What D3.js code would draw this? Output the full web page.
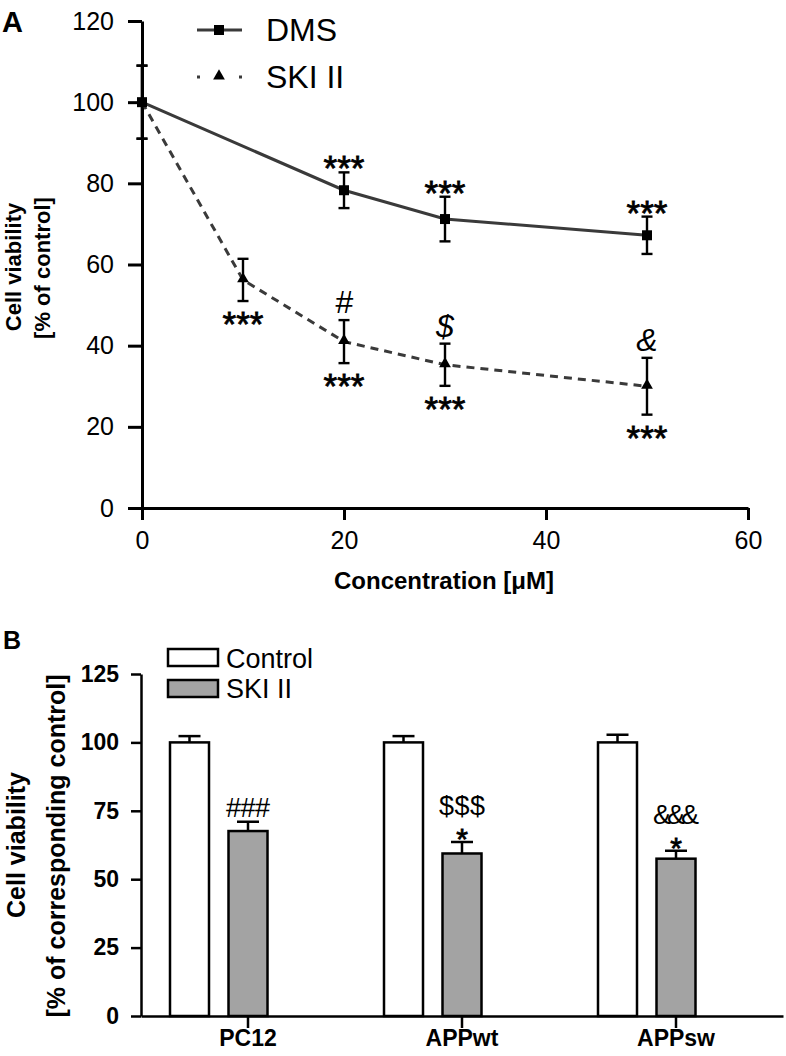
<!DOCTYPE html>
<html><head><meta charset="utf-8">
<script src="https://cdn.jsdelivr.net/npm/d3@7"></script>
<style>
html,body{margin:0;padding:0;background:#fff;}
svg{display:block;font-family:"Liberation Sans",Arial,sans-serif;}
</style></head>
<body>
<svg id="chart" width="786" height="1056"></svg>
<script>
// ---------- Panel A data ----------
const dmsDose = [0, 20, 30, 50];
const dmsMean = [100, 78.3, 71.2, 67.2];
const dmsErr  = [9, 4.4, 5.5, 4.6];
const dmsAbove = ["", "***", "***", "***"];

const skiDose = [0, 10, 20, 30, 50];
const skiMean = [100, 56.2, 41.0, 35.3, 30.0];
const skiErr  = [9, 5.2, 5.3, 5.2, 7.0];
const skiAbove = ["", "", "#", "$", "&"];
const skiBelow = ["", "***", "***", "***", "***"];

const xTicksA = [0, 20, 40, 60];
const yTicksA = [0, 20, 40, 60, 80, 100, 120];

// ---------- Panel B data ----------
const cells = ["PC12", "APPwt", "APPsw"];
const seriesB = ["Control", "SKI II"];
const ctrlMean = [100, 100, 100];
const ctrlErr  = [2.3, 2.3, 2.8];
const skiBMean = [67.6, 59.4, 57.5];
const skiBErr  = [3.4, 4.2, 2.9];
const bTopMark = ["###", "$$$", "&&&"];
const bStar    = ["", "*", "*"];
const yTicksB = [0, 25, 50, 75, 100, 125];

const svg = d3.select("#chart");
const FONT = '"Liberation Sans",Arial,sans-serif';
const lineGrey = "#3a3a3a";

// ================= PANEL A =================
const xA = d3.scaleLinear().domain([0, 60]).range([142, 748]);
const yA = d3.scaleLinear().domain([0, 120]).range([508, 21]);

const gA = svg.append("g");

const yAxisA = d3.axisLeft(yA).tickValues(yTicksA).tickSize(14).tickSizeOuter(0).tickPadding(14);
const xAxisA = d3.axisBottom(xA).tickValues(xTicksA).tickSize(12).tickSizeOuter(0).tickPadding(11);
const ga1 = gA.append("g").attr("transform", `translate(${xA(0)},0)`).call(yAxisA);
const ga2 = gA.append("g").attr("transform", `translate(0,${yA(0)})`).call(xAxisA);
[ga1, ga2].forEach(g => {
  g.select(".domain").attr("stroke", "#000").attr("stroke-width", 3);
  g.selectAll(".tick line").attr("stroke", "#000").attr("stroke-width", 3);
  g.selectAll(".tick text").attr("font-family", FONT).attr("font-size", 25).attr("fill", "#000");
});

const dmsData = dmsDose.map((d, i) => ({x: d, y: dmsMean[i], e: dmsErr[i], a: dmsAbove[i]}));
const skiData = skiDose.map((d, i) => ({x: d, y: skiMean[i], e: skiErr[i], a: skiAbove[i], b: skiBelow[i]}));
const line = d3.line().x(d => xA(d.x)).y(d => yA(d.y));

gA.append("path").datum(skiData).attr("d", line).attr("fill", "none")
  .attr("stroke", lineGrey).attr("stroke-width", 3).attr("stroke-dasharray", "8,6");
gA.append("path").datum(dmsData).attr("d", line).attr("fill", "none")
  .attr("stroke", lineGrey).attr("stroke-width", 3);

function errBars(data, capW) {
  const g = gA.append("g").attr("stroke", "#000").attr("stroke-width", 2.4);
  data.forEach(d => {
    const cx = xA(d.x);
    g.append("line").attr("x1", cx).attr("x2", cx).attr("y1", yA(d.y + d.e)).attr("y2", yA(d.y - d.e));
    g.append("line").attr("x1", cx - capW/2).attr("x2", cx + capW/2).attr("y1", yA(d.y + d.e)).attr("y2", yA(d.y + d.e));
    g.append("line").attr("x1", cx - capW/2).attr("x2", cx + capW/2).attr("y1", yA(d.y - d.e)).attr("y2", yA(d.y - d.e));
  });
}
errBars(dmsData, 11);
errBars(skiData, 11);

const sq = d3.symbol().type(d3.symbolSquare).size(100);
const tri = d3.symbol().type(d3.symbolTriangle).size(60);
gA.selectAll(".sq").data(dmsData).join("path")
  .attr("d", sq).attr("transform", d => `translate(${xA(d.x)},${yA(d.y)})`).attr("fill", "#000");
gA.selectAll(".tri").data(skiData.filter(d => d.x > 0)).join("path")
  .attr("d", tri).attr("transform", d => `translate(${xA(d.x)},${yA(d.y) - 1})`).attr("fill", "#000");

const starFs = 35;
function stars(x, centerY, txt, parent, fs) {
  parent.append("text").attr("x", x).attr("y", centerY + 0.57 * fs)
    .attr("text-anchor", "middle").attr("font-size", fs).attr("font-family", FONT)
    .attr("stroke", "#000").attr("stroke-width", 0.8).text(txt);
}
dmsData.forEach(d => {
  if (d.a) stars(xA(d.x), yA(d.y + d.e) - 12, d.a, gA, starFs);
});
skiData.forEach(d => {
  if (d.b) stars(xA(d.x), yA(d.y - d.e) + 15, d.b, gA, starFs);
  if (d.a) gA.append("text").attr("x", xA(d.x)).attr("y", yA(d.y + d.e) - 7)
    .attr("text-anchor", "middle").attr("font-size", 32).attr("font-style", "italic")
    .attr("font-family", FONT).text(d.a);
});

// legend A
const lgA = gA.append("g");
lgA.append("line").attr("x1", 197).attr("x2", 242).attr("y1", 30).attr("y2", 30)
  .attr("stroke", lineGrey).attr("stroke-width", 3);
lgA.append("path").attr("d", sq).attr("transform", "translate(219,30)").attr("fill", "#000");
lgA.append("text").attr("x", 266).attr("y", 41).attr("font-size", 32).attr("font-family", FONT).text("DMS");
lgA.append("line").attr("x1", 197).attr("x2", 242).attr("y1", 77).attr("y2", 77)
  .attr("stroke", lineGrey).attr("stroke-width", 3).attr("stroke-dasharray", "3,39");
lgA.append("path").attr("d", tri).attr("transform", "translate(219,76)").attr("fill", "#000");
lgA.append("text").attr("x", 266).attr("y", 88).attr("font-size", 32).attr("font-family", FONT).text("SKI II");

gA.append("text").attr("x", 444).attr("y", 589).attr("text-anchor", "middle")
  .attr("font-size", 24).attr("font-weight", "bold").attr("font-family", FONT).text("Concentration [\u03BCM]");
gA.append("text").attr("transform", "translate(21,267) rotate(-90)").attr("text-anchor", "middle")
  .attr("font-size", 22).attr("font-weight", "bold").attr("font-family", FONT).text("Cell viability");
gA.append("text").attr("transform", "translate(50,268) rotate(-90)").attr("text-anchor", "middle")
  .attr("font-size", 22).attr("font-weight", "bold").attr("font-family", FONT).text("[% of control]");
gA.append("text").attr("x", 2).attr("y", 32).attr("font-size", 29).attr("font-weight", "bold")
  .attr("font-family", FONT).text("A");

// ================= PANEL B =================
const gB = svg.append("g");
const x0 = d3.scaleBand().domain(cells).range([141, 783]);
const x1 = d3.scalePoint().domain(seriesB).range([-58.5, 0]);
const yB = d3.scaleLinear().domain([0, 125]).range([1016, 674]);
const barW = 39;

const yAxisB = d3.axisLeft(yB).tickValues(yTicksB).tickSize(10).tickSizeOuter(0).tickPadding(12);
const xAxisB = d3.axisBottom(x0).tickSize(12).tickSizeOuter(0).tickPadding(2);
const gb1 = gB.append("g").attr("transform", `translate(${x0.range()[0]},0)`).call(yAxisB);
const gb2 = gB.append("g").attr("transform", `translate(0,${yB(0)})`).call(xAxisB);
[gb1, gb2].forEach(g => {
  g.select(".domain").attr("stroke", "#000").attr("stroke-width", 2.5);
  g.selectAll(".tick line").attr("stroke", "#000").attr("stroke-width", 2.5);
  g.selectAll(".tick text").attr("font-family", FONT).attr("font-size", 23)
    .attr("font-weight", "bold").attr("fill", "#000");
});

const barsData = [];
cells.forEach((c, i) => {
  barsData.push({cell: c, s: "Control", v: ctrlMean[i], e: ctrlErr[i], fill: "#fff"});
  barsData.push({cell: c, s: "SKI II", v: skiBMean[i], e: skiBErr[i], fill: "#a3a3a3"});
});
const bx = d => x0(d.cell) + x0.bandwidth() / 2 + x1(d.s);

const ebB = gB.append("g").attr("stroke", "#000").attr("stroke-width", 2.5);
barsData.forEach(d => {
  const cx = bx(d);
  ebB.append("line").attr("x1", cx).attr("x2", cx).attr("y1", yB(d.v)).attr("y2", yB(d.v + d.e));
  ebB.append("line").attr("x1", cx - 11).attr("x2", cx + 11).attr("y1", yB(d.v + d.e)).attr("y2", yB(d.v + d.e));
});
gB.selectAll(".bar").data(barsData).join("rect")
  .attr("x", d => bx(d) - barW / 2).attr("width", barW)
  .attr("y", d => yB(d.v)).attr("height", d => yB(0) - yB(d.v))
  .attr("fill", d => d.fill).attr("stroke", "#000").attr("stroke-width", 2.5);
gb2.raise();

cells.forEach((c, i) => {
  const cx = x0(c) + x0.bandwidth() / 2 + x1("SKI II");
  const capY = yB(skiBMean[i] + skiBErr[i]);
  if (bStar[i]) {
    stars(cx, capY - 10, bStar[i], gB, 30);
    gB.append("text").attr("x", cx).attr("y", capY - 9 - 18).attr("text-anchor", "middle")
      .attr("font-size", 27).attr("font-family", FONT).attr("textLength", 46).text(bTopMark[i]);
  } else {
    gB.append("text").attr("x", cx).attr("y", capY - 5).attr("text-anchor", "middle")
      .attr("font-size", 27).attr("font-family", FONT).attr("textLength", 44).text(bTopMark[i]);
  }
});

const lgB = gB.append("g");
[["Control", "#fff", 649, 668], ["SKI II", "#a3a3a3", 680, 698]].forEach(([t, f, y0, base]) => {
  lgB.append("rect").attr("x", 168).attr("y", y0).attr("width", 50).attr("height", 17)
    .attr("fill", f).attr("stroke", "#000").attr("stroke-width", 2.5);
  lgB.append("text").attr("x", 226).attr("y", base).attr("font-size", 27).attr("font-family", FONT).text(t);
});

gB.append("text").attr("transform", "translate(25,845) rotate(-90)").attr("text-anchor", "middle")
  .attr("font-size", 25).attr("font-weight", "bold").attr("font-family", FONT).text("Cell viability");
gB.append("text").attr("transform", "translate(65,846) rotate(-90)").attr("text-anchor", "middle")
  .attr("font-size", 25).attr("font-weight", "bold").attr("font-family", FONT).text("[% of corresponding control]");
gB.append("text").attr("x", 3).attr("y", 649).attr("font-size", 25).attr("font-weight", "bold")
  .attr("font-family", FONT).text("B");
</script>
</body></html>
